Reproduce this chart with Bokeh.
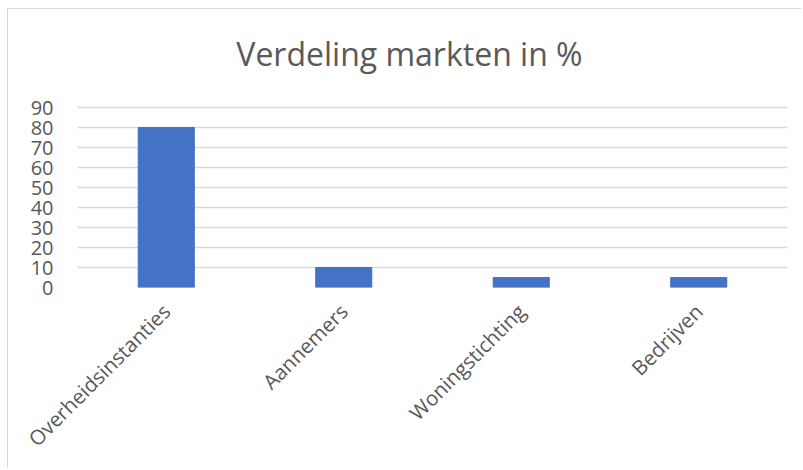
from math import pi
from bokeh.plotting import figure
from bokeh.models import Range1d, FixedTicker, Label
from bokeh.embed import file_html
from bokeh.resources import INLINE

categories = ["Overheidsinstanties", "Aannemers", "Woningstichting", "Bedrijven"]
values = [80, 10, 5, 5]
y_ticks = [0, 10, 20, 30, 40, 50, 60, 70, 80, 90]
title_text = "Verdeling markten in %"

FONT = "Open Sans"
TXT = "#595959"
GRID = "#d9d9d9"

# the frame reaches up to the top of the chart so the title can sit inside it;
# gridlines and labels stop at 90 through the fixed ticker
p = figure(x_range=categories, y_range=Range1d(0, 139),
           width=794, height=460, output_backend="svg", toolbar_location=None,
           min_border_left=69, min_border_right=15, min_border_top=0, min_border_bottom=182)
p.styles = {"margin-left": "7px", "margin-top": "8px",
            "border-left": "1px solid #d9d9d9", "border-top": "1px solid #d9d9d9"}

p.vbar(x=categories, top=values, width=0.316, color="#4472C4")

title = Label(x=1.87, y=117, text=title_text, text_align="center",
              text_baseline="alphabetic", text_font=FONT, text_font_size="32px",
              text_color=TXT)
p.add_layout(title)

p.outline_line_color = None
p.xgrid.grid_line_color = None
p.ygrid.grid_line_color = GRID
p.ygrid.grid_line_width = 1.5
p.yaxis.ticker = FixedTicker(ticks=y_ticks)

for ax in (p.xaxis[0], p.yaxis[0]):
    ax.axis_line_color = None
    ax.major_tick_line_color = None
    ax.minor_tick_line_color = None
    ax.major_label_text_font = FONT
    ax.major_label_text_color = TXT

p.yaxis.major_label_text_font_size = "20px"
p.xaxis.major_label_text_font_size = "20.5px"
p.yaxis.major_tick_out = 0
p.yaxis.major_label_standoff = 24
p.xaxis.major_tick_out = 0
p.xaxis.major_label_standoff = 20
p.xaxis.major_label_orientation = pi / 4

open("out.html", "w").write(file_html(p, INLINE))
